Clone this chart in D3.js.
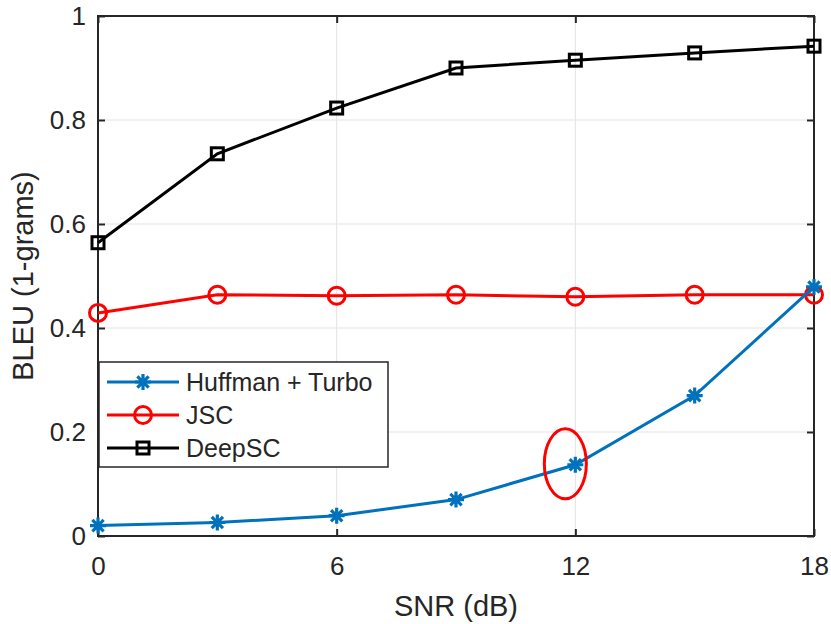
<!DOCTYPE html>
<html>
<head>
<meta charset="utf-8">
<script src="https://cdn.jsdelivr.net/npm/d3@7"></script>
<style>
  body { margin: 0; background: #fff; }
  text { font-family: "Liberation Sans", Arial, sans-serif; fill: #262626; }
</style>
</head>
<body>
<div id="chart"></div>
<script>
const snr = [0, 3, 6, 9, 12, 15, 18];
const huffman = [0.020, 0.026, 0.039, 0.070, 0.137, 0.270, 0.479];
const jsc = [0.429, 0.464, 0.462, 0.464, 0.460, 0.464, 0.464];
const deepsc = [0.564, 0.735, 0.823, 0.900, 0.915, 0.929, 0.942];
const xTicks = [0, 6, 12, 18];
const yTicks = [0, 0.2, 0.4, 0.6, 0.8, 1];

const width = 831;
const height = 624;
const margin = {left: 98, right: 17, top: 16, bottom: 88};

const series = [
  {name: "Huffman + Turbo", values: huffman, color: "#0072BD", marker: "star"},
  {name: "JSC", values: jsc, color: "#FF0000", marker: "circle"},
  {name: "DeepSC", values: deepsc, color: "#000000", marker: "square"}
];

const svg = d3.select("#chart")
  .append("svg")
  .attr("width", width)
  .attr("height", height);

const x = d3.scaleLinear().domain([0, 18]).range([margin.left, width - margin.right]);
const y = d3.scaleLinear().domain([0, 1]).range([height - margin.bottom, margin.top]);

// grid
svg.append("g")
  .selectAll("line")
  .data(xTicks.slice(1, -1))
  .join("line")
  .attr("x1", d => x(d)).attr("x2", d => x(d))
  .attr("y1", y(0)).attr("y2", y(1))
  .attr("stroke", "#e3e3e3").attr("stroke-width", 1);

svg.append("g")
  .selectAll("line")
  .data(yTicks.slice(1, -1))
  .join("line")
  .attr("x1", x(0)).attr("x2", x(18))
  .attr("y1", d => y(d)).attr("y2", d => y(d))
  .attr("stroke", "#e3e3e3").attr("stroke-width", 1);

// axes, ticks inward on all four sides
const fmt = d => d === 0 || d === 1 ? d3.format("d")(d) : d3.format(".1f")(d);

svg.append("g")
  .attr("transform", `translate(0,${y(0)})`)
  .call(d3.axisBottom(x).tickValues(xTicks).tickSizeInner(-7).tickSizeOuter(0).tickPadding(21))
  .call(g => g.select(".domain").remove());

svg.append("g")
  .attr("transform", `translate(0,${y(1)})`)
  .call(d3.axisTop(x).tickValues(xTicks).tickSizeInner(-7).tickSizeOuter(0).tickFormat(""))
  .call(g => g.select(".domain").remove());

svg.append("g")
  .attr("transform", `translate(${x(0)},0)`)
  .call(d3.axisLeft(y).tickValues(yTicks).tickFormat(fmt).tickSizeInner(-7).tickSizeOuter(0).tickPadding(12))
  .call(g => g.select(".domain").remove());

svg.append("g")
  .attr("transform", `translate(${x(18)},0)`)
  .call(d3.axisRight(y).tickValues(yTicks).tickSizeInner(-7).tickSizeOuter(0).tickFormat(""))
  .call(g => g.select(".domain").remove());

svg.selectAll(".tick line").attr("stroke", "#262626").attr("stroke-width", 2);
svg.selectAll(".tick text")
  .attr("font-size", 26)
  .attr("fill", "#262626")
  .attr("font-family", "Liberation Sans, Arial, sans-serif");

svg.append("rect")
  .attr("x", x(0)).attr("y", y(1))
  .attr("width", x(18) - x(0)).attr("height", y(0) - y(1))
  .attr("fill", "none").attr("stroke", "#262626").attr("stroke-width", 2);

// lines
const line = d3.line()
  .x((d, i) => x(snr[i]))
  .y(d => y(d));

function drawMarker(g, type, color, cx, cy) {
  if (type === "circle") {
    g.append("circle").attr("cx", cx).attr("cy", cy).attr("r", 8.5)
      .attr("fill", "none").attr("stroke", color).attr("stroke-width", 3);
  } else if (type === "square") {
    g.append("rect").attr("x", cx - 6).attr("y", cy - 6).attr("width", 12).attr("height", 12)
      .attr("fill", "none").attr("stroke", color).attr("stroke-width", 3);
  } else {
    const r = 8;
    const s = r * Math.SQRT1_2;
    const p = `M${cx - r},${cy}L${cx + r},${cy}M${cx},${cy - r}L${cx},${cy + r}` +
      `M${cx - s},${cy - s}L${cx + s},${cy + s}M${cx - s},${cy + s}L${cx + s},${cy - s}`;
    g.append("path").attr("d", p).attr("stroke", color).attr("stroke-width", 3.2).attr("fill", "none");
  }
}

const plot = svg.append("g");
series.slice().reverse().forEach(s => {
  plot.append("path")
    .datum(s.values)
    .attr("d", line)
    .attr("fill", "none")
    .attr("stroke", s.color)
    .attr("stroke-width", 3);
  const mg = plot.append("g");
  s.values.forEach((v, i) => drawMarker(mg, s.marker, s.color, x(snr[i]), y(v)));
});

// highlight ellipse around the 12 dB point
svg.append("ellipse")
  .attr("cx", x(snr[4]) - 10).attr("cy", y(huffman[4]) - 1)
  .attr("rx", 21).attr("ry", 35)
  .attr("fill", "none").attr("stroke", "#FF0000").attr("stroke-width", 3);

// legend
const legend = svg.append("g").attr("transform", "translate(99,362)");
legend.append("rect")
  .attr("width", 289).attr("height", 105)
  .attr("fill", "#fff").attr("stroke", "#262626").attr("stroke-width", 1.5);

series.forEach((s, i) => {
  const ly = 20 + i * 33;
  legend.append("line")
    .attr("x1", 8).attr("x2", 80).attr("y1", ly).attr("y2", ly)
    .attr("stroke", s.color).attr("stroke-width", 3);
  drawMarker(legend, s.marker, s.color, 44, ly);
  legend.append("text")
    .attr("x", 87).attr("y", ly + 9)
    .attr("font-size", 25)
    .attr("fill", "#000")
    .text(s.name);
});

// axis labels
svg.append("text")
  .attr("x", (x(0) + x(18)) / 2).attr("y", 616)
  .attr("text-anchor", "middle")
  .attr("font-size", 29)
  .text("SNR (dB)");

svg.append("text")
  .attr("transform", `translate(33,${(y(0) + y(1)) / 2}) rotate(-90)`)
  .attr("text-anchor", "middle")
  .attr("font-size", 29)
  .text("BLEU (1-grams)");
</script>
</body>
</html>
